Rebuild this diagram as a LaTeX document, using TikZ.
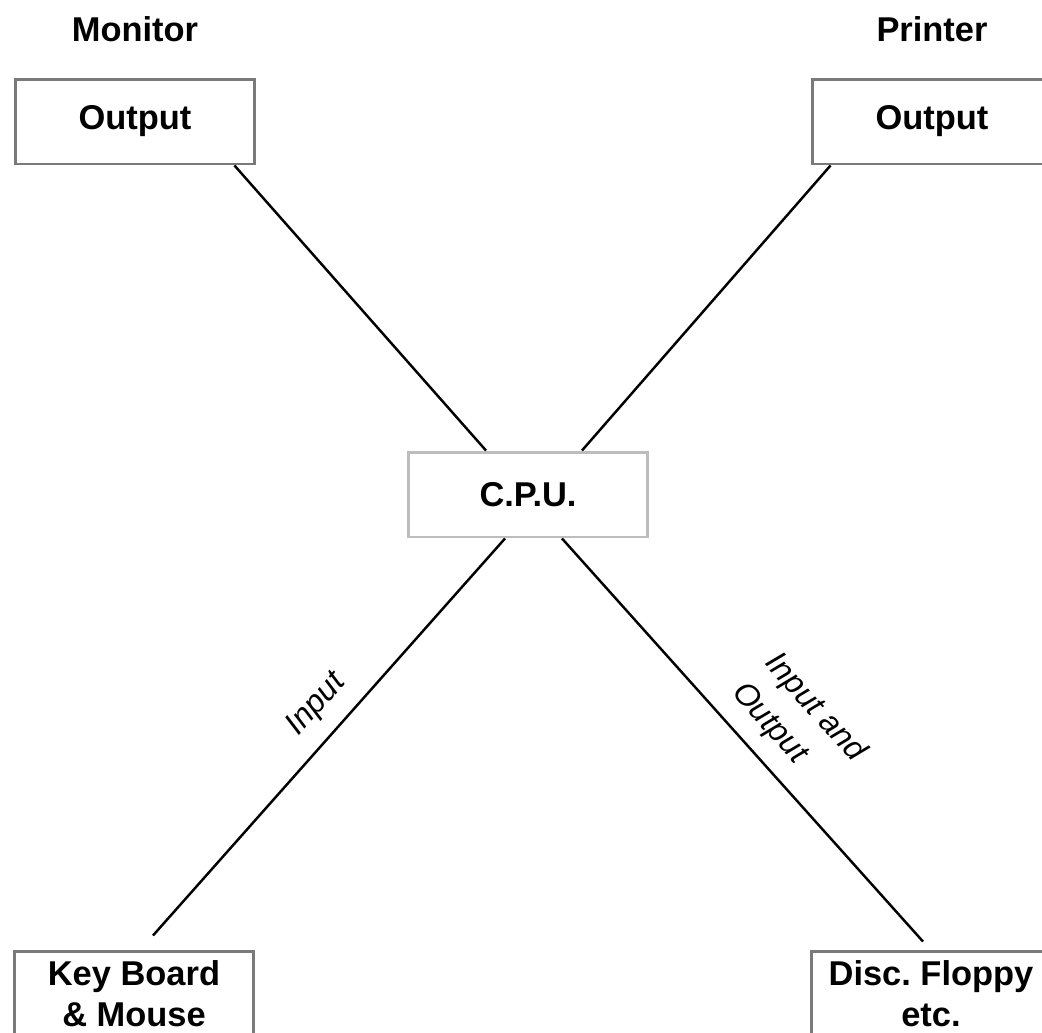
\documentclass[tikz,border=0pt]{standalone}
\usepackage{fontspec}
\setmainfont{Liberation Sans}
\usetikzlibrary{positioning}

\definecolor{boxgray}{HTML}{7A7A7A}
\definecolor{cpugray}{HTML}{BDBDBD}

\begin{document}
\begin{tikzpicture}[x=0.02cm,y=-0.02cm]
  \useasboundingbox (0,0) rectangle (1042,1032);

  \tikzstyle{UnitStyle}=[draw=boxgray,line width=1.7pt,fill=white,
    minimum width=4.8cm,minimum height=1.7cm,inner sep=0pt,align=center,
    font=\bfseries\fontsize{19.6}{23.3}\selectfont]
  \tikzstyle{CpuStyle}=[UnitStyle,draw=cpugray]
  \tikzstyle{TitleStyle}=[inner sep=0pt,font=\bfseries\fontsize{19.6}{23.3}\selectfont]
  \tikzstyle{WireStyle}=[line width=1.4pt]
  \tikzstyle{WireLabel}=[sloped,above=0.3cm,inner sep=0pt,align=left,
    font=\itshape\fontsize{18.2}{25}\selectfont]

  \node[UnitStyle] (mon) at (135,121.5) {Output};
  \node[UnitStyle] (prn) at (932,121.5) {Output};
  \node[CpuStyle]  (cpu) at (528,494.5) {C.P.U.};
  \node[UnitStyle] (kbd) at (134,993.5) {Key Board\\\& Mouse};
  \node[UnitStyle] (disc) at (931,993.5) {Disc.\ Floppy\\etc.};

  \node[TitleStyle,above=0.7cm of mon] (montitle) {Monitor};
  \node[TitleStyle,above=0.7cm of prn] (prntitle) {Printer};

  \draw[WireStyle] ([xshift=-0.44cm]mon.south east) -- ([xshift=-0.84cm]cpu.north);
  \draw[WireStyle] ([xshift=0.4cm]prn.south west) -- ([xshift=1.08cm]cpu.north);
  \draw[WireStyle] ([xshift=-0.46cm]cpu.south)
    -- node[WireLabel,pos=0.47] {Input} ([xshift=0.38cm,yshift=0.28cm]kbd.north);
  \draw[WireStyle] ([xshift=0.68cm]cpu.south)
    -- node[WireLabel,pos=0.545] {Input and\\Output} ([xshift=-0.16cm,yshift=0.16cm]disc.north);
\end{tikzpicture}
\end{document}
